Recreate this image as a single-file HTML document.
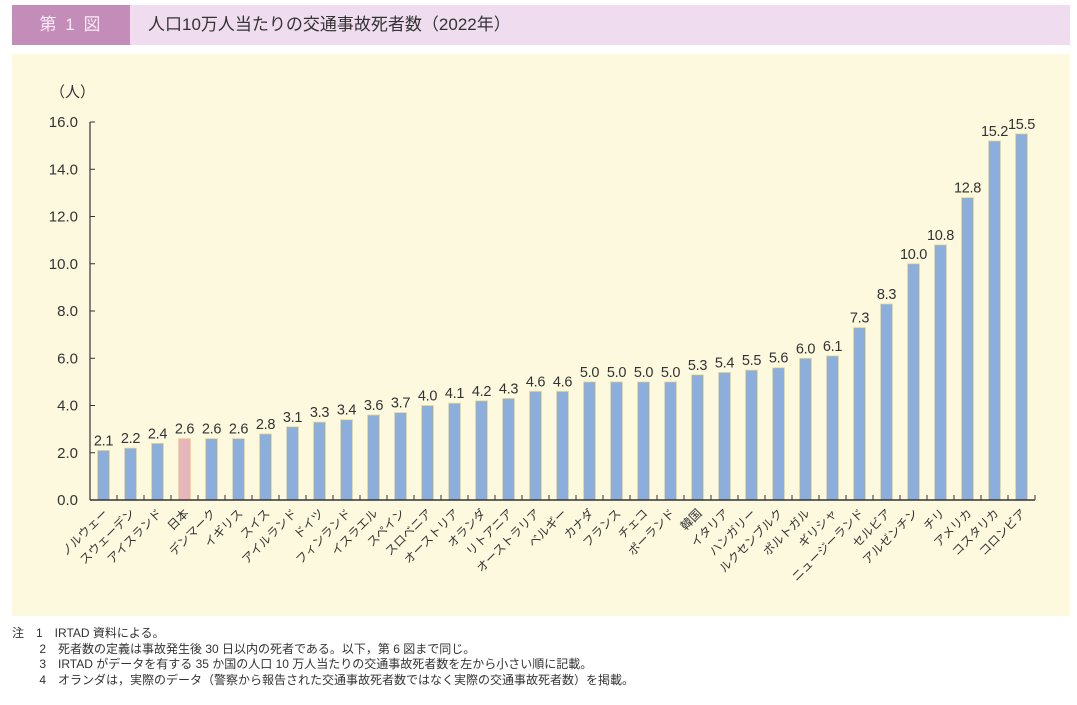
<!DOCTYPE html>
<html><head><meta charset="utf-8"><style>
body{margin:0;width:1077px;height:705px;background:#fff;font-family:"Liberation Sans","Noto Sans CJK JP",sans-serif;position:relative;overflow:hidden}
#hdr{position:absolute;left:12px;top:5px;width:1058px;height:40px;background:#efdcef}
#badge{position:absolute;left:12px;top:5px;width:118px;height:40px;background:#c48cb9;color:#fbeaf6;font-size:17px;line-height:40px;text-align:center;letter-spacing:2px}
#title{position:absolute;left:148px;top:5px;line-height:40px;font-size:17px;color:#333}
#panel{position:absolute;left:12px;top:54px;width:1058px;height:562px;background:#fdf9df}
#notes{position:absolute;left:12px;top:626px;font-size:12px;color:#333;line-height:15.5px}
</style></head><body>
<div id="hdr"></div>
<div id="badge">第 1 図</div>
<div id="title">人口10万人当たりの交通事故死者数（2022年）</div>
<div id="panel"></div>
<svg id="chart" width="1077" height="705" style="position:absolute;left:0;top:0"></svg>
<div id="notes">
<div>注　1　IRTAD 資料による。</div>
<div>　　 2　死者数の定義は事故発生後 30 日以内の死者である。以下，第 6 図まで同じ。</div>
<div>　　 3　IRTAD がデータを有する 35 か国の人口 10 万人当たりの交通事故死者数を左から小さい順に記載。</div>
<div>　　 4　オランダは，実際のデータ（警察から報告された交通事故死者数ではなく実際の交通事故死者数）を掲載。</div>
</div>
<script>
const categories=["ノルウェー","スウェーデン","アイスランド","日本","デンマーク","イギリス","スイス","アイルランド","ドイツ","フィンランド","イスラエル","スペイン","スロベニア","オーストリア","オランダ","リトアニア","オーストラリア","ベルギー","カナダ","フランス","チェコ","ポーランド","韓国","イタリア","ハンガリー","ルクセンブルク","ポルトガル","ギリシャ","ニュージーランド","セルビア","アルゼンチン","チリ","アメリカ","コスタリカ","コロンビア"];
const values=[2.1,2.2,2.4,2.6,2.6,2.6,2.8,3.1,3.3,3.4,3.6,3.7,4.0,4.1,4.2,4.3,4.6,4.6,5.0,5.0,5.0,5.0,5.3,5.4,5.5,5.6,6.0,6.1,7.3,8.3,10.0,10.8,12.8,15.2,15.5];
const yTicks=[0,2,4,6,8,10,12,14,16];
const highlight="日本";
const svg=document.getElementById('chart');
const NS="http://www.w3.org/2000/svg";
const x0=90,slot=27,y0=500,yTop=122,yMax=16;
const yS=v=>y0-(y0-yTop)*v/yMax;
const xS=i=>x0+slot*(i+0.5);
function mk(t,a){const e=document.createElementNS(NS,t);for(const k in a)e.setAttribute(k,a[k]);svg.appendChild(e);return e;}
const u=mk('text',{x:50,y:97,'font-size':15,fill:'#333'});u.textContent='（人）';


yTicks.forEach(t=>{
  const y=yS(t);
  const tx=mk('text',{x:78,y:y+5,'font-size':15,fill:'#333','text-anchor':'end'});tx.textContent=t.toFixed(1);
  
  
  const l=mk('line',{x1:x0,x2:x0+5,y1:y,y2:y,stroke:'#333','stroke-width':1});
  
  
});
values.forEach((v,i)=>{
  const cx=xS(i),y=yS(v);
  const b=mk('rect',{x:cx-6,y:y,width:12,height:y0-y,fill:categories[i]===highlight?'#e6b6bc':'#8caedc',stroke:'#f0d98a','stroke-width':0.8});
  
  
  const vl=mk('text',{x:cx,y:y-5,'font-size':14.5,fill:'#333','text-anchor':'middle','letter-spacing':'-0.3'});vl.textContent=v.toFixed(1);
  
  
  const tk=mk('line',{x1:x0+slot*(i+1),x2:x0+slot*(i+1),y1:y0,y2:y0-5,stroke:'#333','stroke-width':1});
  
  
  const cl=mk('text',{x:cx+5,y:y0+14,'font-size':12,fill:'#333','text-anchor':'end',transform:`rotate(-45 ${cx+5} ${y0+14})`});cl.textContent=categories[i];
  
  
});
const ax=mk('line',{x1:x0,x2:x0,y1:yTop,y2:y0,stroke:'#333','stroke-width':1.2});


const bx=mk('line',{x1:x0,x2:x0+slot*values.length,y1:y0,y2:y0,stroke:'#333','stroke-width':1.5});


</script>
</body></html>
